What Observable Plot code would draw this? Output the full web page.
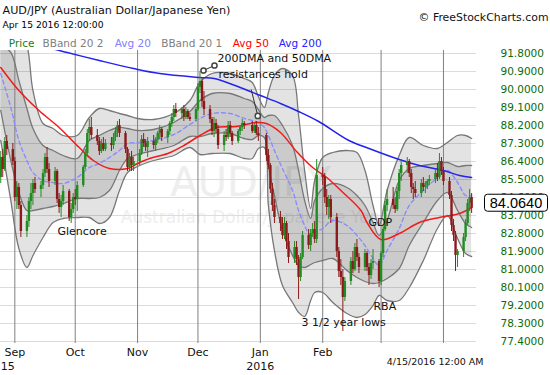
<!DOCTYPE html>
<html><head><meta charset="utf-8">
<script src="https://cdn.jsdelivr.net/npm/d3@7"></script>
<script src="https://cdn.jsdelivr.net/npm/@observablehq/plot@0.6"></script>
<style>
body{margin:0;background:#fff;}
#chart{width:550px;height:375px;overflow:hidden;}
</style></head><body><div id="chart"></div><script>
// ---- Candles: [day, open, high, low, close] ----
const aug15 = [[25,85.6,86.9,85.3,86.6],[26,86.6,87.0,85.6,86.0],[27,86.0,87.6,85.9,87.4],[28,87.4,87.7,86.7,87.0],[31,87.0,87.3,86.2,86.4]];
const sep15 = [[1,86.4,86.6,84.4,84.6],[2,84.6,85.4,84.0,85.1],[3,85.1,85.3,84.0,84.2],[4,84.2,84.4,82.6,82.9],[7,82.9,83.7,82.6,83.4],[8,83.4,84.6,83.1,84.4],[9,84.4,85.3,84.0,84.8],[10,84.8,85.5,84.2,85.3],[11,85.3,85.6,84.8,85.0],[14,85.0,85.4,84.6,85.2],[15,85.2,86.0,85.0,85.8],[16,85.8,86.8,85.6,86.6],[17,86.6,87.1,85.8,86.0],[18,86.0,86.3,85.1,85.4],[21,85.4,86.1,85.2,85.9],[22,85.9,86.0,84.3,84.5],[23,84.5,84.8,83.8,84.1],[24,84.1,84.7,83.6,84.4],[25,84.4,85.2,84.2,84.9],[28,84.9,85.0,83.4,83.6],[29,83.6,84.3,83.3,84.0],[30,84.0,84.8,83.8,84.6]];
const oct15 = [[1,84.6,85.0,84.2,84.5],[2,84.5,85.4,83.9,85.2],[5,85.2,86.2,85.1,86.1],[6,86.1,87.0,86.0,86.8],[7,86.8,88.0,86.6,87.8],[8,87.8,88.5,87.4,88.1],[9,88.1,88.6,87.5,87.7],[12,87.7,88.0,87.2,87.4],[13,87.4,87.6,86.7,86.9],[14,86.9,87.5,86.8,87.3],[15,87.3,87.6,86.9,87.0],[16,87.0,87.5,86.9,87.3],[19,87.3,87.6,86.9,87.2],[20,87.2,87.8,87.0,87.6],[21,87.6,88.1,87.4,87.9],[22,87.9,88.4,87.6,88.2],[23,88.2,88.5,87.6,87.8],[26,87.8,87.9,86.8,87.0],[27,87.0,87.1,85.9,86.1],[28,86.1,86.8,85.9,86.6],[29,86.6,86.9,85.9,86.2],[30,86.2,86.6,85.9,86.4]];
const nov15 = [[2,86.4,87.0,86.2,86.8],[3,86.8,87.7,86.7,87.5],[4,87.5,87.8,87.1,87.3],[5,87.3,87.5,86.9,87.1],[6,87.1,87.6,86.6,87.4],[9,87.4,87.7,87.0,87.2],[10,87.2,87.6,86.9,87.5],[11,87.5,87.9,87.3,87.8],[12,87.8,88.2,87.5,88.0],[13,88.0,88.1,87.4,87.6],[16,87.6,88.0,87.3,87.9],[17,87.9,88.4,87.7,88.3],[18,88.3,88.8,88.1,88.6],[19,88.6,89.2,88.4,89.0],[20,89.0,89.3,88.6,88.8],[23,88.8,89.1,88.5,89.0],[24,89.0,89.2,88.4,88.6],[25,88.6,89.1,88.5,88.9],[26,88.9,89.0,88.5,88.6],[27,88.6,88.8,88.4,88.5],[30,88.5,89.1,88.4,89.0]];
const dec15 = [[1,89.0,90.3,88.9,90.1],[2,90.1,90.9,89.8,90.4],[3,90.4,90.6,89.1,89.4],[4,89.4,89.9,88.7,89.0],[7,89.0,89.2,88.3,88.5],[8,88.5,88.6,87.7,87.9],[9,87.9,88.6,87.6,88.3],[10,88.3,88.5,87.8,88.0],[11,88.0,88.2,87.0,87.2],[14,87.2,87.9,86.9,87.7],[15,87.7,88.0,87.4,87.6],[16,87.6,88.4,87.5,88.2],[17,88.2,88.4,87.6,87.8],[18,87.8,87.9,87.2,87.4],[21,87.4,88.0,87.3,87.9],[22,87.9,88.2,87.7,88.1],[23,88.1,88.5,87.9,88.3],[24,88.3,88.4,88.0,88.2],[28,88.2,88.4,87.8,87.9],[29,87.9,88.3,87.8,88.2],[30,88.2,88.4,87.7,87.8],[31,87.8,88.1,87.4,87.7]];
const jan16 = [[4,87.7,87.8,86.4,86.7],[5,86.7,87.0,86.0,86.2],[6,86.2,86.3,84.8,85.0],[7,85.0,85.3,83.9,84.2],[8,84.2,84.5,83.3,83.6],[11,83.6,83.9,82.9,83.3],[12,83.3,83.6,82.5,82.7],[13,82.7,83.6,82.5,83.3],[14,83.3,83.4,82.0,82.4],[15,82.4,82.8,81.3,81.6],[18,81.6,82.4,81.3,82.1],[19,82.1,82.4,81.2,81.5],[20,81.5,81.7,79.5,80.6],[21,80.6,81.8,80.4,81.6],[22,81.6,82.9,81.5,82.7],[25,82.7,83.0,82.0,82.2],[26,82.2,83.0,81.9,82.8],[27,82.8,83.3,82.6,83.0],[28,83.0,83.4,82.3,82.5],[29,82.5,86.5,82.3,85.7]];
const feb16 = [[1,85.7,86.1,85.2,85.6],[2,85.6,85.8,84.3,84.6],[3,84.6,85.0,83.7,84.1],[4,84.1,84.7,83.5,84.5],[5,84.5,84.7,83.3,83.6],[8,83.6,83.8,81.6,81.9],[9,81.9,82.1,80.6,80.9],[10,80.9,81.5,80.2,80.6],[11,80.6,81.0,77.9,79.6],[12,79.6,80.6,79.4,80.4],[15,80.4,81.6,80.2,81.4],[16,81.4,81.9,80.8,81.0],[17,81.0,82.3,80.9,82.1],[18,82.1,82.5,81.4,81.6],[19,81.6,81.8,80.8,81.1],[22,81.1,82.0,80.9,81.8],[23,81.8,81.9,80.9,81.1],[24,81.1,81.3,80.2,80.7],[25,80.7,81.5,80.5,81.3],[26,81.3,82.0,81.0,81.4],[29,81.4,81.5,80.1,80.4]];
const mar16 = [[1,80.4,81.9,80.2,81.8],[2,81.8,83.2,81.6,83.0],[3,83.0,84.4,82.9,84.2],[4,84.2,85.0,83.9,84.5],[7,84.5,85.1,84.0,84.2],[8,84.2,84.6,83.8,84.0],[9,84.0,85.1,83.9,84.9],[10,84.9,86.0,84.5,85.8],[11,85.8,86.5,85.4,86.2],[14,86.2,86.6,85.8,86.4],[15,86.4,86.5,85.6,85.8],[16,85.8,86.0,84.8,85.1],[17,85.1,85.3,84.5,85.0],[18,85.0,85.4,84.6,84.8],[21,84.8,85.5,84.6,85.3],[22,85.3,85.6,84.9,85.1],[23,85.1,85.4,84.8,85.2],[24,85.2,85.5,85.0,85.4],[25,85.4,85.7,85.2,85.5],[28,85.5,86.0,85.3,85.8],[29,85.8,86.3,85.4,85.6],[30,85.6,86.8,85.5,86.4],[31,86.4,86.6,85.7,85.9]];
const apr16 = [[1,85.9,86.1,85.2,85.4],[4,85.4,85.6,84.5,84.7],[5,84.7,84.9,82.9,83.2],[6,83.2,83.5,82.4,82.7],[7,82.7,82.9,80.9,81.7],[8,81.7,82.0,81.1,81.9],[11,81.9,82.8,81.6,82.6],[12,82.6,83.5,82.4,83.3],[13,83.3,84.5,83.2,84.3],[14,84.3,85.0,83.9,84.6],[15,84.6,84.8,83.8,84.064]];

// ---- Bollinger bands (20,2 and 20,1) and 20-day average ----
const bandDates = ["2015-08-25","2015-08-30","2015-09-03","2015-09-07","2015-09-10","2015-09-15","2015-09-20","2015-09-25","2015-10-02","2015-10-08","2015-10-13","2015-10-18","2015-10-23","2015-10-27","2015-11-01","2015-11-09","2015-11-19","2015-11-27","2015-12-02","2015-12-08","2015-12-17","2015-12-24","2015-12-28","2015-12-31","2016-01-03","2016-01-05","2016-01-08","2016-01-12","2016-01-17","2016-01-20","2016-01-23","2016-01-26","2016-01-28","2016-02-01","2016-02-06","2016-02-13","2016-02-18","2016-02-22","2016-02-26","2016-02-29","2016-03-04","2016-03-10","2016-03-15","2016-03-22","2016-03-29","2016-04-03","2016-04-08","2016-04-12","2016-04-15"];
const bbUpper2 = [93.45,93.35,92.95,92.2,89.95,88.3,88.05,87.7,87.7,88.6,89.05,88.95,88.8,88.7,88.55,88.5,88.8,89.45,90.35,90.8,90.8,90.55,90.35,89.65,89.1,89.85,90.7,91.05,90.7,88.7,85.95,84.05,85.45,86.6,86.85,86.95,86.85,85.95,84.2,83.2,84.95,86.7,87.6,87.2,87.05,87.35,87.7,87.7,87.55];
const bbUpper1 = [92.2,91.85,90.45,89.05,88.05,87.2,86.95,86.7,86.55,87.45,87.7,87.95,88.1,88.05,87.95,88.0,88.35,88.9,89.45,89.8,89.8,89.55,89.4,89.0,88.6,88.7,88.7,88.2,87.2,85.95,84.45,83.55,84.45,85.05,85.3,85.1,84.7,84.2,83.35,82.7,83.45,85.45,86.05,86.2,86.3,86.35,86.15,86.2,86.2];
const avg20 = [90.8,89.1,87.45,86.45,85.85,85.45,85.35,85.3,85.6,86.1,86.3,86.6,86.95,87.3,87.35,87.45,87.75,88.25,88.55,88.8,88.8,88.55,88.45,88.35,88.1,87.7,86.95,86.05,84.95,83.95,83.2,82.7,82.85,83.05,83.45,83.2,82.7,82.2,81.55,81.2,81.95,83.05,84.2,84.95,85.6,85.95,85.35,84.7,84.7];
const bbLower1 = [88.95,86.45,84.85,83.95,83.95,84.05,84.15,84.3,84.55,84.55,84.6,84.95,85.95,86.55,86.75,86.95,87.2,87.65,87.65,87.8,87.8,87.55,87.5,87.7,87.6,86.2,84.7,82.95,81.7,81.2,81.1,81.25,81.35,81.45,81.55,80.95,80.6,80.4,80.3,80.35,80.55,81.05,82.2,83.35,84.45,84.85,83.95,83.3,83.1];
const bbLower2 = [87.45,84.45,82.05,81.1,81.7,82.6,83.35,83.55,83.6,83.6,83.3,83.6,84.95,85.85,86.15,86.45,86.7,87.1,86.75,86.8,86.8,86.55,86.55,87.05,87.1,84.2,81.95,80.2,79.35,78.85,78.65,79.45,79.85,79.85,79.35,78.8,78.6,78.75,79.2,79.7,79.45,79.45,80.1,81.45,83.05,83.7,82.55,81.8,81.65];

// ---- 50-day and 200-day averages ----
const avg50Dates = ["2015-08-25","2015-09-03","2015-09-13","2015-09-23","2015-10-03","2015-10-10","2015-10-18","2015-10-27","2015-11-01","2015-11-07","2015-11-16","2015-11-24","2015-12-02","2015-12-10","2015-12-20","2015-12-30","2016-01-04","2016-01-11","2016-01-19","2016-01-27","2016-02-03","2016-02-10","2016-02-20","2016-02-23","2016-03-01","2016-03-10","2016-03-20","2016-03-30","2016-04-09","2016-04-15"];
const avg50 = [91.1,89.95,88.95,88.1,87.1,86.45,86.05,86.05,86.3,86.55,86.8,87.2,87.7,88.1,88.15,88.35,88.3,87.85,86.9,86.1,85.6,84.95,83.95,83.35,82.5,82.8,83.35,83.6,83.8,84.1];
const avg200Dates = ["2015-08-25","2015-09-10","2015-09-27","2015-10-13","2015-10-30","2015-11-12","2015-12-02","2015-12-09","2015-12-22","2016-01-01","2016-01-11","2016-01-20","2016-01-30","2016-02-14","2016-02-24","2016-03-10","2016-03-20","2016-04-01","2016-04-09","2016-04-15"];
const avg200 = [92.8,92.3,91.85,91.45,91.05,90.8,90.6,90.55,90.1,89.7,89.3,88.9,88.4,87.45,87.05,86.5,86.2,85.95,85.7,85.6];

// ---- axes ----
const yTicks = [77.4,78.3,79.2,80.1,81.0,81.9,82.8,83.7,84.6,85.5,86.4,87.3,88.2,89.1,90.0,90.9,91.8];
const monthStarts = ["2015-09-01","2015-10-01","2015-11-01","2015-12-01","2016-01-01","2016-02-01","2016-03-01","2016-04-01"];
const monthLabels = ["Sep","Oct","Nov","Dec","Jan","Feb"];

// ---- annotations ----
const notes = [
  {date:"2015-12-10T17:00Z", price:91.55, label:"200DMA and 50DMA"},
  {date:"2015-12-11T05:00Z", price:90.75, label:"resistances hold"},
  {date:"2015-09-22T05:00Z", price:82.9, label:"Glencore"},
  {date:"2016-02-23T17:00Z", price:83.35, label:"GDP"},
  {date:"2016-02-26T05:00Z", price:79.15, label:"RBA"},
  {date:"2016-01-21T12:00Z", price:78.35, label:"3 1/2 year lows"}
];
const pointers = [
  {d1:"2015-12-03T18:00Z", p1:90.95, d2:"2015-12-09T05:00Z", p2:91.2},
  {d1:"2015-12-27T11:00Z", p1:90.0, d2:"2015-12-30T17:30Z", p2:88.68}
];

// ---- build tables ----
const U = s => new Date(s.length === 10 ? s + "T00:00Z" : s);
const monthRows = [["2015-08",aug15],["2015-09",sep15],["2015-10",oct15],["2015-11",nov15],["2015-12",dec15],["2016-01",jan16],["2016-02",feb16],["2016-03",mar16],["2016-04",apr16]];
const bars = monthRows.flatMap(([m, rows]) => rows.map(([d,o,h,l,c]) => ({date: U(`${m}-${String(d).padStart(2,"0")}`), open:o, high:h, low:l, close:c})));
const bands = bandDates.map((s,i) => ({date: U(s), u2: bbUpper2[i], u1: bbUpper1[i], mid: avg20[i], l1: bbLower1[i], l2: bbLower2[i]}));
const a50 = avg50Dates.map((s,i) => ({date: U(s), v: avg50[i]}));
const a200 = avg200Dates.map((s,i) => ({date: U(s), v: avg200[i]}));
const months = monthStarts.map(U);
const monthLab = monthLabels.map((t,i) => ({date: months[i], t}));
const noteRows = notes.map(n => ({...n, date: U(n.date)}));
const ptrRows = pointers.map(p => ({d1: U(p.d1), p1: p.p1, d2: U(p.d2), p2: p.p2}));

const GREEN = "#228b22", RED = "#8b1a1a";
const col = d => d.close >= d.open ? GREEN : RED;
const FONT = "DejaVu Sans, Verdana, sans-serif";

function hdr(text, x, y, o = {}) {
  return Plot.text([text], {frameAnchor: "top-left", dx: x, dy: y - 50, text: d => d,
    textAnchor: o.anchor || "start", lineAnchor: "middle", fontSize: o.size || 11,
    fill: o.fill || "#000", fontWeight: o.weight || "normal", fontFamily: o.family || FONT});
}

const plot = Plot.plot({
  width: 550, height: 375,
  marginLeft: 0, marginRight: 74, marginTop: 50, marginBottom: 32,
  style: {fontFamily: FONT, fontSize: "11px", background: "#fff", overflow: "visible"},
  x: {type: "utc", domain: [U("2015-08-24T21:00Z"), U("2016-04-17T10:00Z")], axis: null},
  y: {domain: [77.3, 91.95], axis: null},
  marks: [
    // watermark
    hdr("AUD/JPY", 250, 183, {anchor: "middle", size: 40, fill: "#eeeeee"}),
    hdr("Australian Dollar/Japanese Yen", 250, 217, {anchor: "middle", size: 17, fill: "#eeeeee"}),
    // horizontal grid
    Plot.ruleY(yTicks, {stroke: "#dcdcdc", strokeWidth: 1}),
    // band fills
    Plot.areaY(bands, {x: "date", y1: "l2", y2: "u2", fill: "#000", fillOpacity: 0.11, curve: "catmull-rom", clip: true}),
    Plot.areaY(bands, {x: "date", y1: "l1", y2: "u1", fill: "#000", fillOpacity: 0.1, curve: "catmull-rom", clip: true}),
    // month grid
    Plot.ruleX(months, {stroke: "#808080", strokeWidth: 1}),
    // band edges
    ...["u2","u1","l1","l2"].map(k => Plot.line(bands, {x: "date", y: k, stroke: "#777", strokeWidth: 1.3, curve: "catmull-rom", clip: true})),
    Plot.line(bands, {x: "date", y: "mid", stroke: "#8c8cff", strokeWidth: 1.4, strokeDasharray: "4,3", curve: "catmull-rom", clip: true}),
    // averages
    Plot.line(a200, {x: "date", y: "v", stroke: "#2323ee", strokeWidth: 1.5, curve: "catmull-rom", clip: true}),
    Plot.line(a50, {x: "date", y: "v", stroke: "#f01c1c", strokeWidth: 1.5, curve: "catmull-rom", clip: true}),
    // candles
    Plot.ruleX(bars, {x: "date", y1: "low", y2: "high", stroke: col, strokeWidth: 1, clip: true}),
    Plot.ruleX(bars, {x: "date", y1: "open", y2: "close", stroke: col, strokeWidth: 2.4, clip: true}),
    // annotations
    Plot.link(ptrRows, {x1: "d1", y1: "p1", x2: "d2", y2: "p2", stroke: "#333", strokeWidth: 1}),
    Plot.dot(ptrRows.slice(0,1), {x: "d1", y: "p1", r: 2.6, stroke: "#444", fill: "#fff"}),
    Plot.dot(ptrRows.slice(0,1), {x: "d2", y: "p2", r: 2.6, stroke: "#444", fill: "#fff"}),
    Plot.dot(ptrRows.slice(1), {x: "d2", y: "p2", r: 2.6, stroke: "#444", fill: "#fff"}),
    Plot.text(noteRows, {x: "date", y: "price", text: "label", textAnchor: "start", fontSize: 11, fill: "#111"}),
    // right axis labels
    Plot.text(yTicks, {y: d => d, frameAnchor: "right", dx: 24, text: d => d.toFixed(4), textAnchor: "start", fill: "#0b6b0b", fontSize: 10.5}),
    // x axis labels
    Plot.text(monthLab, {x: "date", text: "t", frameAnchor: "bottom", dy: 12, fontSize: 11, fill: "#111"}),
    Plot.text([{date: months[0], t: "15"}], {x: "date", text: "t", frameAnchor: "bottom", dy: 26, dx: -14, textAnchor: "start", fontSize: 11, fill: "#111"}),
    Plot.text([{date: months[4], t: "2016"}], {x: "date", text: "t", frameAnchor: "bottom", dy: 26, fontSize: 11, fill: "#111"}),
    hdr("4/15/2016 12:00 AM", 483, 361, {anchor: "end", size: 9.5, fill: "#111"}),
    // header
    hdr("AUD/JPY (Australian Dollar/Japanese Yen)", 2, 10, {size: 11.2, fill: "#111"}),
    hdr("Apr 15 2016 12:00:00", 2, 25, {size: 9.2, fill: "#000"}),
    hdr("© FreeStockCharts.com", 548, 17, {anchor: "end", size: 10.9, fill: "#111"}),
    hdr("Price", 8.3, 43, {size: 10.5, fill: "#1b7c1b"}),
    hdr("BBand 20 2", 42, 43, {size: 10.5, fill: "#808080"}),
    hdr("Avg 20", 114.3, 43, {size: 10.5, fill: "#8080ff"}),
    hdr("BBand 20 1", 160.7, 43, {size: 10.5, fill: "#808080"}),
    hdr("Avg 50", 232.3, 43, {size: 10.5, fill: "#ff0000"}),
    hdr("Avg 200", 278.3, 43, {size: 10.5, fill: "#2222ff"})
  ]
});

// last price box
const last = bars[bars.length - 1];
const yy = plot.scale("y").apply(last.close) - 5;
const svg = d3.select(plot);
svg.append("rect").attr("x", 484.5).attr("y", yy - 8.5).attr("width", 63).attr("height", 17).attr("rx", 3)
  .attr("fill", "#fff").attr("stroke", "#000").attr("stroke-width", 1);
svg.append("text").attr("x", 516).attr("y", yy).attr("dy", "0.36em").attr("text-anchor", "middle")
  .attr("font-family", "Liberation Sans, Arial, sans-serif").attr("font-size", 14.5).attr("fill", "#000")
  .text(last.close.toFixed(4));

document.getElementById("chart").appendChild(plot);
</script></body></html>
